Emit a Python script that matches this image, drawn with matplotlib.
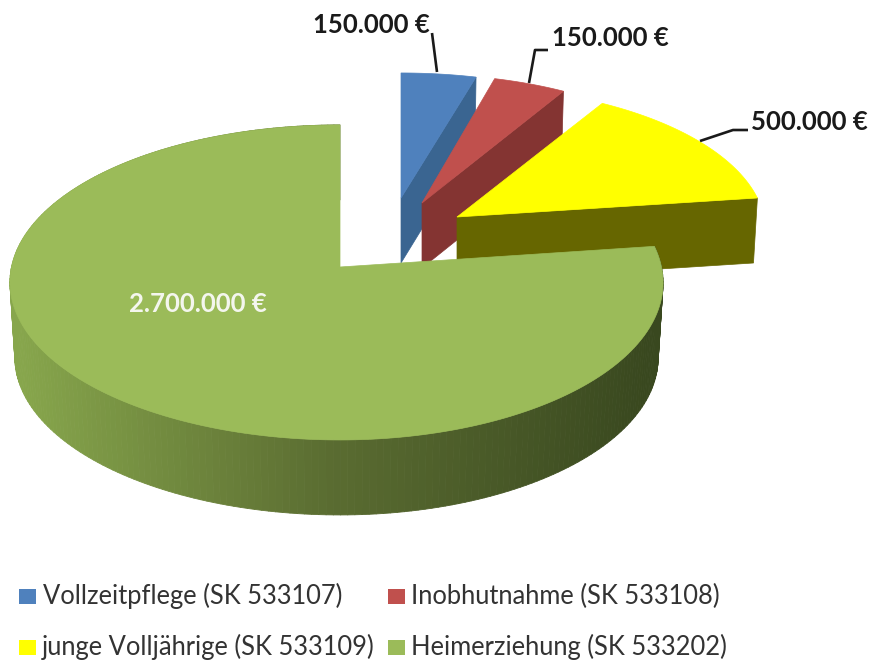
import numpy as np
import matplotlib
matplotlib.use('Agg')
import matplotlib.pyplot as plt
from matplotlib.patches import Polygon, Rectangle
from matplotlib.collections import PolyCollection
from matplotlib.colors import to_rgb

plt.rcParams['font.family'] = ['Lato', 'DejaVu Sans']

categories = ['Vollzeitpflege (SK 533107)', 'Inobhutnahme (SK 533108)',
              'junge Volljährige (SK 533109)', 'Heimerziehung (SK 533202)']
values = [150000, 150000, 500000, 2700000]

top_colors = ['#4f81bd', '#c0504d', '#ffff00', '#9bbb59']
wall_colors = ['#3a6591', '#843432', '#666600', None]

# layout per slice: apex of top face (px), rim scale x / y, rim shift, wall height
apex = [(401, 198), (422, 203), (457, 217), (340, 267)]
scale_x = [0.95, 0.92, 0.945, 1.0]
scale_y = [0.88, 0.905, 0.92, 1.0]
shift_x = [0, 0, 0, -3.5]
wall_h = [65, 65, 65, 75]

RX, RY, PERSP = 325, 156, 0.098


def rim(a, sx, sy):
    # a = clockwise angle from the top, radians. offset of rim point from apex
    u, v = np.sin(a), np.cos(a)
    w = 1 + PERSP * v
    return sx * RX * u / w, -sy * RY * v / w


fig, ax = plt.subplots(figsize=(8.74, 6.64), dpi=100)
ax.set_position([0, 0, 1, 1])
ax.set_xlim(0, 874)
ax.set_ylim(664, 0)
ax.axis('off')

edges = np.cumsum([0] + values) / sum(values) * 2 * np.pi

for i in range(4):
    a0, a1 = edges[i], edges[i + 1]
    ax0, ay0 = apex[i]
    aa = np.linspace(a0, a1, 240)
    dx, dy = rim(aa, scale_x[i], scale_y[i])
    xs = ax0 + shift_x[i] * np.abs(np.sin(aa)) + dx
    ys = ay0 + dy
    if i < 3:
        # cut face on the front, from the apex to the end of the rim
        ex, ey = xs[-1], ys[-1]
        ex2 = ax0 + (ex - ax0) * 0.987
        ax.add_patch(Polygon([(ax0, ay0), (ex, ey), (ex2, ey + wall_h[i]), (ax0, ay0 + wall_h[i])],
                             fc=wall_colors[i], ec=wall_colors[i], lw=0.5, zorder=i + 1))
    else:
        # outer wall of the big slice, shaded from left to right
        bx = ax0 - 3 + (xs - ax0 + 3) * 0.985
        by = ys + wall_h[i]
        quads = []
        cols = []
        left, mid, right = to_rgb('#87a64c'), to_rgb('#5a6c31'), to_rgb('#39481f')
        for j in range(len(aa) - 1):
            quads.append([(xs[j], ys[j]), (xs[j + 1], ys[j + 1]), (bx[j + 1], by[j + 1]), (bx[j], by[j])])
            f = np.clip((xs[j] - 20) / 630, 0, 1)
            if f < 0.5:
                c = np.array(left) + (np.array(mid) - np.array(left)) * f / 0.5
            else:
                c = np.array(mid) + (np.array(right) - np.array(mid)) * (f - 0.5) / 0.5
            cols.append(c)
        ax.add_collection(PolyCollection(quads, facecolors=cols, edgecolors=cols, linewidths=0.6, zorder=i + 1))
    ax.add_patch(Polygon(np.column_stack([np.r_[ax0, xs], np.r_[ay0, ys]]),
                         fc=top_colors[i], ec=top_colors[i], lw=0.5, zorder=i + 1.5))


def euro(val):
    return f'{val:,}'.replace(',', '.') + ' €'


# leader lines
leaders = [[(437, 72), (432, 33)],
           [(529, 83), (535, 50), (548, 50)],
           [(700, 141), (733, 130), (748, 130)]]
for pts in leaders:
    ax.plot(*zip(*pts), color='#1a1a1a', lw=1.9, solid_capstyle='butt', zorder=6)

label_pos = [(313, 25), (552, 38), (751, 122), (129, 304)]
label_col = ['#1a1a1a', '#1a1a1a', '#1a1a1a', '#f4f6ee']
for i in range(4):
    ax.text(label_pos[i][0], label_pos[i][1], euro(values[i]), ha='left', va='center',
            fontsize=18.5, fontweight='bold', color=label_col[i], zorder=7)

# legend
swatch = [(19, 589), (388, 589), (19, 640), (388, 640)]
text_x = [43, 411, 42, 411]
for i in range(4):
    ax.add_patch(Rectangle(swatch[i], 17, 15, fc=top_colors[i], ec='none'))
    ax.text(text_x[i], swatch[i][1] + 7, categories[i], ha='left', va='center', fontsize=18.4, color='#333333')

fig.savefig('out.png', dpi=100, facecolor='white')
